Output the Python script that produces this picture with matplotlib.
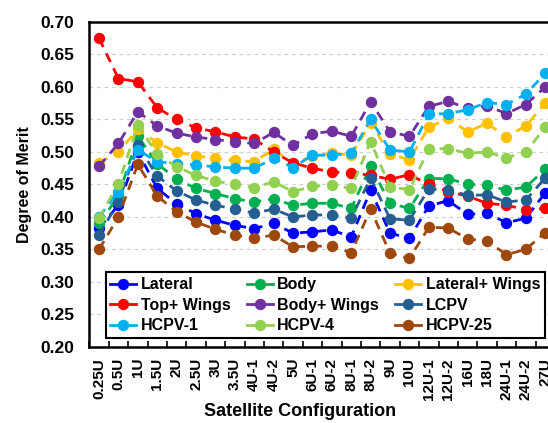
import matplotlib
matplotlib.use("Agg")
import matplotlib.pyplot as plt
from matplotlib.lines import Line2D
import numpy as np

plt.rcParams['font.family'] = ['Liberation Sans', 'DejaVu Sans']
plt.rcParams['font.weight'] = 'bold'

configs = ['0.25U', '0.5U', '1U', '1.5U', '2U', '2.5U', '3U', '3.5U', '4U-1', '4U-2',
           '5U', '6U-1', '6U-2', '8U-1', '8U-2', '9U', '10U', '12U-1', '12U-2',
           '16U', '18U', '24U-1', '24U-2', '27U']

lateral = [0.383, 0.418, 0.500, 0.444, 0.420, 0.405, 0.395, 0.387, 0.382, 0.390,
           0.375, 0.377, 0.380, 0.369, 0.441, 0.375, 0.367, 0.417, 0.425, 0.404,
           0.406, 0.391, 0.398, 0.437]
body = [0.390, 0.432, 0.524, 0.482, 0.458, 0.444, 0.436, 0.428, 0.423, 0.428,
        0.418, 0.421, 0.421, 0.413, 0.478, 0.421, 0.413, 0.459, 0.459, 0.450,
        0.449, 0.441, 0.446, 0.473]
lateral_wings = [0.483, 0.500, 0.535, 0.514, 0.500, 0.494, 0.490, 0.487, 0.485, 0.504,
                 0.482, 0.493, 0.498, 0.495, 0.545, 0.497, 0.488, 0.538, 0.552, 0.531,
                 0.544, 0.523, 0.540, 0.575]
top_wings = [0.675, 0.613, 0.608, 0.568, 0.550, 0.537, 0.531, 0.523, 0.520, 0.500,
             0.483, 0.475, 0.469, 0.468, 0.464, 0.458, 0.465, 0.450, 0.439, 0.432,
             0.421, 0.418, 0.411, 0.413]
body_wings = [0.478, 0.513, 0.562, 0.540, 0.529, 0.523, 0.519, 0.516, 0.513, 0.530,
              0.510, 0.528, 0.532, 0.524, 0.577, 0.531, 0.524, 0.570, 0.578, 0.567,
              0.571, 0.559, 0.573, 0.600]
lcpv = [0.372, 0.423, 0.510, 0.463, 0.440, 0.426, 0.418, 0.412, 0.406, 0.412,
        0.400, 0.403, 0.403, 0.398, 0.460, 0.397, 0.395, 0.443, 0.442, 0.433,
        0.434, 0.423, 0.426, 0.460]
hcpv1 = [0.400, 0.439, 0.503, 0.485, 0.482, 0.480, 0.477, 0.475, 0.475, 0.490,
         0.476, 0.495, 0.495, 0.498, 0.550, 0.503, 0.500, 0.558, 0.559, 0.565,
         0.576, 0.573, 0.589, 0.621]
hcpv4 = [0.398, 0.451, 0.541, 0.497, 0.477, 0.464, 0.455, 0.450, 0.445, 0.454,
         0.439, 0.447, 0.449, 0.444, 0.516, 0.446, 0.442, 0.505, 0.505, 0.498,
         0.500, 0.491, 0.500, 0.538]
hcpv25 = [0.350, 0.400, 0.481, 0.432, 0.408, 0.392, 0.381, 0.372, 0.367, 0.372,
          0.354, 0.355, 0.355, 0.345, 0.412, 0.344, 0.336, 0.384, 0.383, 0.366,
          0.363, 0.342, 0.350, 0.376]

series = [
    ('Lateral', lateral, '#0000FF'),
    ('Body', body, '#00B050'),
    ('Lateral+ Wings', lateral_wings, '#FFC000'),
    ('Top+ Wings', top_wings, '#FF0000'),
    ('Body+ Wings', body_wings, '#7030A0'),
    ('LCPV', lcpv, '#255E91'),
    ('HCPV-1', hcpv1, '#00B0F0'),
    ('HCPV-4', hcpv4, '#92D050'),
    ('HCPV-25', hcpv25, '#9E480E'),
]

fig = plt.figure(figsize=(5.48, 4.23), dpi=100)
ax = fig.add_axes([0.163, 0.180, 0.8496, 0.768])

x = np.arange(len(configs))
handles = {}
for name, vals, col in series:
    ax.plot(x, vals, linestyle=(0, (3.5, 2.5)), linewidth=2, color=col,
            marker='o', markersize=8.2, markeredgewidth=0, label=name,
            clip_on=False)
    handles[name] = Line2D([], [], linestyle='-', linewidth=2, color=col,
                           marker='o', markersize=8.2, markeredgewidth=0)

ax.set_xlim(-0.5, len(configs) - 0.5)
ax.set_ylim(0.20, 0.70)
yt = np.arange(0.20, 0.701, 0.05)
ax.set_yticks(yt)
ax.set_yticklabels([f'{v:.2f}' for v in yt])
ax.set_xticks(x)
ax.set_xticklabels(configs, rotation=90, fontsize=11, fontweight='bold')
ax.set_xticks(np.arange(-0.5, len(configs), 1.0), minor=True)
ax.tick_params(axis='x', which='major', length=0, pad=8)
ax.tick_params(axis='x', which='minor', direction='in', length=4, width=1.2)
ax.tick_params(axis='y', length=0, pad=11, labelsize=12.5)
for lbl in ax.get_yticklabels():
    lbl.set_fontweight('bold')

ax.grid(axis='y', linestyle=(0, (3, 3)), color='#D0D0D0', linewidth=0.9)
ax.set_axisbelow(True)
for sp in ax.spines.values():
    sp.set_linewidth(1.8)
    sp.set_color('black')

ax.set_ylabel('Degree of Merit', fontsize=11.5, fontweight='bold', labelpad=6)
ax.set_xlabel('Satellite Configuration', fontsize=13, fontweight='bold')
ax.xaxis.set_label_coords(0.4525, -0.200)
ax.xaxis.label.set_verticalalignment('center')

order = ['Lateral', 'Top+ Wings', 'HCPV-1', 'Body', 'Body+ Wings', 'HCPV-4',
         'Lateral+ Wings', 'LCPV', 'HCPV-25']
leg = ax.legend([handles[n] for n in order], order, ncol=3, loc='lower left',
                bbox_to_anchor=(0.035, 0.027, 0.944, 0.204), mode='expand',
                borderaxespad=0, fancybox=False, framealpha=1, edgecolor='black',
                prop={'size': 11.5, 'weight': 'bold'}, handlelength=1.6,
                handletextpad=0.3, labelspacing=0.35, borderpad=0.3)
leg.get_frame().set_linewidth(1.5)

fig.savefig('out.png', dpi=100)
